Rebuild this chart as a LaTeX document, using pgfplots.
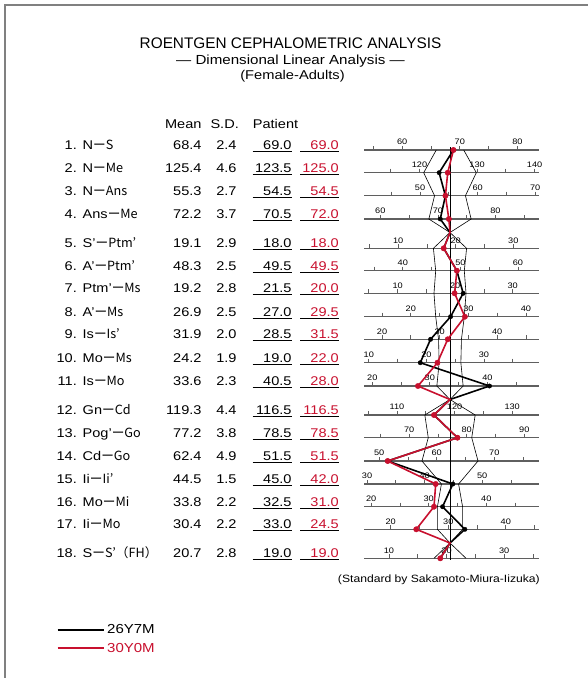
\documentclass[border=0pt]{standalone}
\usepackage{pgfplots}
\pgfplotsset{compat=1.18}
\usepackage{pgfplotstable}
\usepackage{fontspec}
\setmainfont{Liberation Sans}[FakeStretch=1.15]
\newfontfamily\plainsans{Liberation Sans}
\newfontfamily\cjk{Noto Sans CJK JP}
\definecolor{cred}{RGB}{200,16,46}
\definecolor{rulergray}{RGB}{95,95,95}

% y = vertical position (px from top) of each row's ruler; gap rows have mean=sd=0
\pgfplotstableread{
y     mean   sd   pa     pb
150   68.4   2.4  69.0   69.0
172.7 125.4  4.6  123.5  125.0
195.7 55.3   2.7  54.5   54.5
219   72.2   3.7  70.5   72.0
232.5 0      0    0      0
248.3 19.1   2.9  18.0   18.0
270.7 48.3   2.5  49.5   49.5
293.3 19.2   2.8  21.5   20.0
316.7 26.9   2.5  27.0   29.5
339.3 31.9   2.0  28.5   31.5
362.7 24.2   1.9  19.0   22.0
386   33.6   2.3  40.5   28.0
399.5 0      0    0      0
415   119.3  4.4  116.5  116.5
437.7 77.2   3.8  78.5   78.5
461   62.4   4.9  51.5   51.5
484   44.5   1.5  45.0   42.0
506.7 33.8   2.2  32.5   31.0
529.3 30.4   2.2  33.0   24.5
543   0      0    0      0
558.3 20.7   2.8  19.0   19.0
}\ceph

\pgfplotsset{ruler/.style={scale only axis, width=175.03bp, height=2bp,
  ymin=0, ymax=1, axis x line*=top, axis y line=none, ytick=\empty,
  xtick distance=5, tick align=outside, major tick length=4bp,
  x axis line style={rulergray, line width=1.2bp},
  tick style={rulergray, line width=0.8bp},
  xticklabel={\pgfmathtruncatemacro\tv{round(\tick)}\pgfmathtruncatemacro\tm{mod(\tv,10)}\ifnum\tm=0 \tv\fi},
  xticklabel style={font=\fontsize{8}{8}\selectfont, inner sep=1bp, text=black},
  anchor=north west, clip=false}}

\newcommand\ruler[2]{%
  \pgfmathsetmacro\rmin{#1-15}\pgfmathsetmacro\rmax{#1+15.4}%
  \begin{axis}[ruler, xmin=\rmin, xmax=\rmax, at={(364.2bp,-#2bp)}]
  \end{axis}}

\newcommand\trow[8]{%
  \node[anchor=base east,inner sep=0] at (77,#1-0.5) {#2};
  \node[anchor=base west,inner sep=0] at (82.5,#1-0.5) {#3};
  \node[anchor=base east,inner sep=0] at (201.7,#1-0.5) {#4};
  \node[anchor=base east,inner sep=0] at (236.7,#1-0.5) {#5};
  \node[anchor=base east,inner sep=0] at (291.7,#1-0.5) {#6};
  \node[anchor=base east,inner sep=0,text=cred] at (339,#1-0.5) {#7};
  \draw[line width=0.8bp] (252.7,#1+1.3) -- (291.7,#1+1.3);
  \draw[line width=0.8bp] (300,#1+1.3) -- (339,#1+1.3);
}

\newcommand\dbar{\cjk{ー}}

\begin{document}
\begin{tikzpicture}
\useasboundingbox (0,0) rectangle (588bp,-678bp);

\ruler{68.4}{150}
\ruler{125.4}{172.7}
\ruler{55.3}{195.7}
\ruler{72.2}{219}
\ruler{19.1}{248.3}
\ruler{48.3}{270.7}
\ruler{19.2}{293.3}
\ruler{26.9}{316.7}
\ruler{31.9}{339.3}
\ruler{24.2}{362.7}
\ruler{33.6}{386}
\ruler{119.3}{415}
\ruler{77.2}{437.7}
\ruler{62.4}{461}
\ruler{44.5}{484}
\ruler{33.8}{506.7}
\ruler{30.4}{529.3}
\ruler{20.7}{558.3}

\begin{axis}[at={(0,0)}, anchor=north west, scale only axis,
  width=588bp, height=678bp,
  xmin=-78.6713, xmax=24.1259, ymin=-678, ymax=0,
  hide axis, clip=false,
  legend image code/.code={\draw[#1, line width=1.7bp] (0bp,0bp) -- (46.6bp,0bp);},
  legend style={draw=none, fill=none, at={(axis description cs:0.0964,0.0575)},
    anchor=west, inner sep=0pt, row sep=4bp,
    font=\fontsize{13.1}{15}\selectfont},
  legend cell align=left]
\addplot[forget plot, black, line width=0.6bp] table[x expr=-\thisrow{sd}, y expr=-\thisrow{y}] {\ceph};
\addplot[forget plot, black, line width=0.6bp] table[x expr=\thisrow{sd}, y expr=-\thisrow{y}] {\ceph};
\addplot[forget plot, black, line width=0.8bp] coordinates {(0,-147) (0,-560)};
\addplot[black, line width=1.6bp] table[x expr=\thisrow{pa}-\thisrow{mean}, y expr=-\thisrow{y}] {\ceph};
\addplot[cred, line width=1.6bp] table[x expr=\thisrow{pb}-\thisrow{mean}, y expr=-\thisrow{y}] {\ceph};
\addplot[forget plot, only marks, mark=*, mark size=2.2bp, black,
  skip coords between index={4}{5}, skip coords between index={12}{13},
  skip coords between index={19}{20}]
  table[x expr=\thisrow{pa}-\thisrow{mean}, y expr=-\thisrow{y}] {\ceph};
\addplot[forget plot, only marks, mark=*, mark size=2.7bp, cred,
  skip coords between index={4}{5}, skip coords between index={12}{13},
  skip coords between index={19}{20}]
  table[x expr=\thisrow{pb}-\thisrow{mean}, y expr=-\thisrow{y}] {\ceph};
\legend{26Y7M,\textcolor{cred}{30Y0M}}
\end{axis}

\begin{scope}[x=1bp,y=-1bp]
\draw[gray, line width=2bp] (5.3,678) -- (5.3,5.3) -- (588,5.3);
\node[anchor=base,inner sep=0,font=\plainsans\fontsize{15.4}{16}\selectfont] at (290.5,48.8) {ROENTGEN CEPHALOMETRIC ANALYSIS};
\node[anchor=base,inner sep=0,font=\fontsize{13.2}{15}\selectfont] at (290.5,64.5) {— Dimensional Linear Analysis —};
\node[anchor=base,inner sep=0,font=\fontsize{12.8}{15}\selectfont] at (292.5,79.5) {(Female-Adults)};
\begin{scope}[font=\fontsize{12.7}{15}\selectfont]
\node[anchor=base east,inner sep=0] at (201.7,128.5) {Mean};
\node[anchor=base east,inner sep=0] at (239,128.5) {S.D.};
\node[anchor=base west,inner sep=0] at (252.7,128.5) {Patient};
\trow{150}{1.}{N\dbar S}{68.4}{2.4}{69.0}{69.0}{}
\trow{172.7}{2.}{N\dbar Me}{125.4}{4.6}{123.5}{125.0}{}
\trow{195.7}{3.}{N\dbar Ans}{55.3}{2.7}{54.5}{54.5}{}
\trow{219}{4.}{Ans\dbar Me}{72.2}{3.7}{70.5}{72.0}{}
\trow{248.3}{5.}{S’\dbar Ptm’}{19.1}{2.9}{18.0}{18.0}{}
\trow{270.7}{6.}{A’\dbar Ptm’}{48.3}{2.5}{49.5}{49.5}{}
\trow{293.3}{7.}{Ptm’\dbar Ms}{19.2}{2.8}{21.5}{20.0}{}
\trow{316.7}{8.}{A’\dbar Ms}{26.9}{2.5}{27.0}{29.5}{}
\trow{339.3}{9.}{Is\dbar Is’}{31.9}{2.0}{28.5}{31.5}{}
\trow{362.7}{10.}{Mo\dbar Ms}{24.2}{1.9}{19.0}{22.0}{}
\trow{386}{11.}{Is\dbar Mo}{33.6}{2.3}{40.5}{28.0}{}
\trow{415}{12.}{Gn\dbar Cd}{119.3}{4.4}{116.5}{116.5}{}
\trow{437.7}{13.}{Pog’\dbar Go}{77.2}{3.8}{78.5}{78.5}{}
\trow{461}{14.}{Cd\dbar Go}{62.4}{4.9}{51.5}{51.5}{}
\trow{484}{15.}{Ii\dbar Ii’}{44.5}{1.5}{45.0}{42.0}{}
\trow{506.7}{16.}{Mo\dbar Mi}{33.8}{2.2}{32.5}{31.0}{}
\trow{529.3}{17.}{Ii\dbar Mo}{30.4}{2.2}{33.0}{24.5}{}
\trow{558.3}{18.}{S\dbar S’\cjk{（}FH\cjk{）}}{20.7}{2.8}{19.0}{19.0}{}
\end{scope}
\node[anchor=base east,inner sep=0,font=\fontsize{10.6}{12}\selectfont] at (540,582) {(Standard by Sakamoto-Miura-Iizuka)};
\end{scope}
\end{tikzpicture}
\end{document}
